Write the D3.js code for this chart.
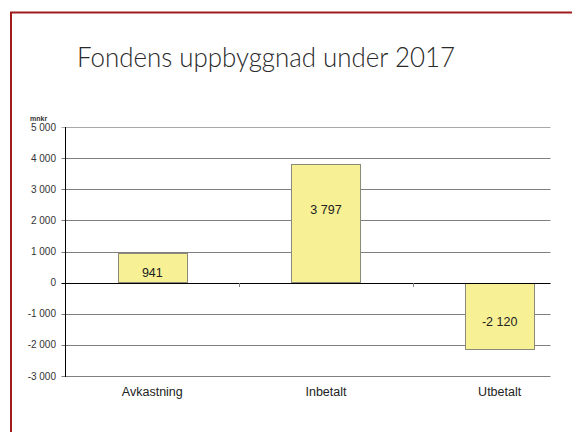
<!DOCTYPE html>
<html><head><meta charset="utf-8">
<script src="https://cdn.jsdelivr.net/npm/d3@7"></script>
<style>html,body{margin:0;padding:0;background:#fff;}svg{display:block;}</style>
</head><body>
<script>
const categories = ["Avkastning", "Inbetalt", "Utbetalt"];
const values = [941, 3797, -2120];
const valueLabels = ["941", "3 797", "-2 120"];
const labelAt = [330, 2350, -1250];
const yTicks = [5000, 4000, 3000, 2000, 1000, 0, -1000, -2000, -3000];
const yTickLabels = ["5 000", "4 000", "3 000", "2 000", "1 000", "0", "-1 000", "-2 000", "-3 000"];
const title = "Fondens uppbyggnad under 2017";
const unit = "mnkr";

const W = 572, H = 432;
const svg = d3.select("body").append("svg").attr("width", W).attr("height", H);

// frame
svg.append("rect").attr("x", 11).attr("y", 12.5).attr("width", W + 20).attr("height", H + 20)
  .attr("fill", "none").attr("stroke", "#a01c1c").attr("stroke-width", 2);

const t = svg.append("text").attr("x", 266).attr("y", 67).attr("text-anchor", "middle")
  .attr("font-family", "Lato, 'Open Sans', sans-serif").attr("font-size", 28).attr("font-weight", 300)
  .attr("fill", "#2a2a2a").text(title);
const tw = t.node().getComputedTextLength();
if (tw > 0) t.attr("textLength", 378).attr("lengthAdjust", "spacingAndGlyphs");

const x0 = 65.5, xEnd = 586.5, gridEnd = 550.5;
const x = d3.scaleBand().domain(categories).range([x0, xEnd]).paddingInner(0).paddingOuter(0);
const y = d3.scaleLinear().domain([-3000, 5000]).range([376, 127]);

// gridlines
svg.append("g").selectAll("line").data(yTicks.filter(d => d !== 0)).join("line")
  .attr("x1", x0 - 4).attr("x2", gridEnd).attr("y1", d => Math.round(y(d)) + 0.5).attr("y2", d => Math.round(y(d)) + 0.5)
  .attr("stroke", d => d === 5000 ? "#a8a8a8" : "#808080").attr("stroke-width", 1);

// tick labels
svg.append("g").selectAll("text").data(yTicks).join("text")
  .attr("x", 56).attr("y", d => y(d) + 3.5).attr("text-anchor", "end")
  .attr("font-family", "'Liberation Sans', Arial, sans-serif").attr("font-size", 10).attr("fill", "#333")
  .text((d, i) => yTickLabels[i]);

svg.append("text").attr("x", 30).attr("y", 121).attr("font-family", "'Liberation Sans', Arial, sans-serif")
  .attr("font-size", 7).attr("font-weight", "bold").attr("fill", "#333").text(unit);

// bars
const bw = x.bandwidth() * 0.4;
svg.append("g").selectAll("rect").data(values).join("rect")
  .attr("x", (d, i) => Math.round(x(categories[i]) + (x.bandwidth() - bw) / 2) + 0.5)
  .attr("y", d => Math.round(y(Math.max(0, d))) + 0.5)
  .attr("width", Math.round(bw))
  .attr("height", d => Math.round(Math.abs(y(d) - y(0))))
  .attr("fill", "#f7f094").attr("stroke", "#8a8a78").attr("stroke-width", 1);

// zero line and axis
svg.append("line").attr("x1", x0 - 4).attr("x2", gridEnd).attr("y1", Math.round(y(0)) + 0.5).attr("y2", Math.round(y(0)) + 0.5)
  .attr("stroke", "#000").attr("stroke-width", 1);
svg.append("g").selectAll("line").data(categories.slice(1)).join("line")
  .attr("x1", d => Math.round(x(d)) + 0.5).attr("x2", d => Math.round(x(d)) + 0.5)
  .attr("y1", Math.round(y(0))).attr("y2", Math.round(y(0)) + 4).attr("stroke", "#808080");
svg.append("line").attr("x1", x0).attr("x2", x0).attr("y1", Math.round(y(5000))).attr("y2", Math.round(y(-3000)) + 1)
  .attr("stroke", "#000").attr("stroke-width", 1);

// value labels
svg.append("g").selectAll("text").data(values).join("text")
  .attr("x", (d, i) => x(categories[i]) + x.bandwidth() / 2).attr("y", (d, i) => y(labelAt[i]) + 4.5)
  .attr("text-anchor", "middle").attr("font-family", "'Liberation Sans', Arial, sans-serif")
  .attr("font-size", 12.5).attr("fill", "#222").text((d, i) => valueLabels[i]);

// category labels
svg.append("g").selectAll("text").data(categories).join("text")
  .attr("x", d => x(d) + x.bandwidth() / 2).attr("y", 396)
  .attr("text-anchor", "middle").attr("font-family", "'Liberation Sans', Arial, sans-serif")
  .attr("font-size", 12.5).attr("fill", "#222").text(d => d);
</script>
</body></html>
